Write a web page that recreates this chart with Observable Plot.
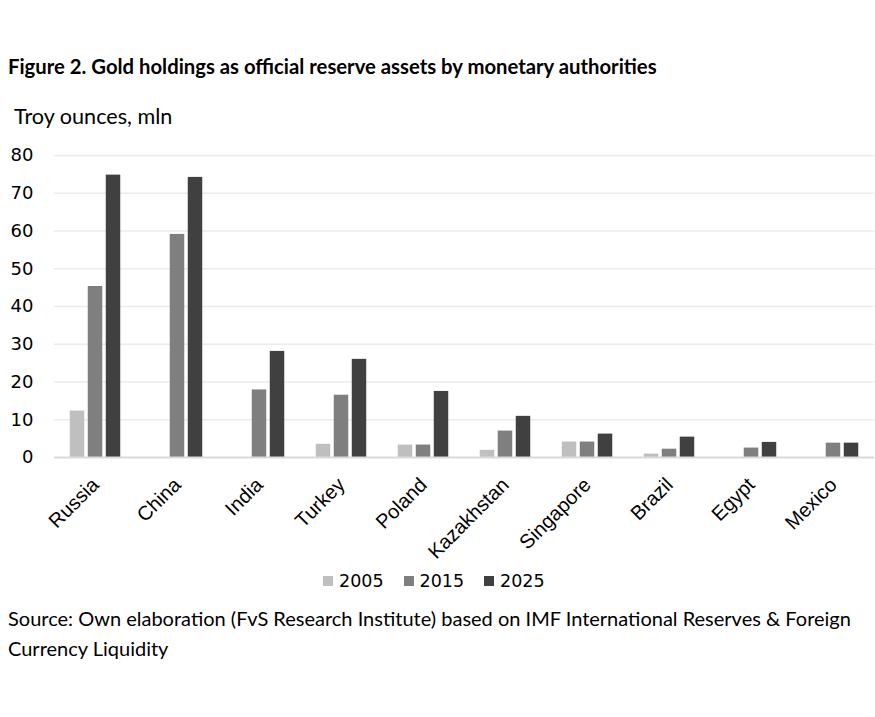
<!DOCTYPE html>
<html>
<head>
<meta charset="utf-8">
<script src="https://cdn.jsdelivr.net/npm/d3@7"></script>
<script src="https://cdn.jsdelivr.net/npm/@observablehq/plot@0.6"></script>
<style>
  html, body { margin: 0; padding: 0; background: #fff; }
  body { width: 875px; height: 717px; position: relative; overflow: hidden; }
  .title { position: absolute; left: 8px; top: 54px; font: bold 20.3px Lato, sans-serif; color: #000; white-space: nowrap; }
  .ylabel { position: absolute; left: 14px; top: 103px; font: 21.6px Lato, sans-serif; color: #000; white-space: nowrap; }
  #chart { position: absolute; left: 0; top: 140px; }
  #chart g[aria-label="x-axis tick label"] { font-family: "Liberation Sans", Arial, sans-serif; font-size: 20px; }
  .legend { position: absolute; left: 323px; top: 571px; display: flex; gap: 20px;
            font: 17.5px "DejaVu Sans", sans-serif; color: #000; }
  .legend span { display: inline-flex; align-items: center; gap: 6px; }
  .legend i { display: inline-block; width: 10px; height: 10px; }
  .source { position: absolute; left: 8px; top: 603px; font: 20px Lato, sans-serif; line-height: 30px; color: #000; white-space: nowrap; }
</style>
</head>
<body>
<div class="title">Figure 2. Gold holdings as official reserve assets by monetary authorities</div>
<div class="ylabel">Troy ounces, mln</div>
<div id="chart"></div>
<div class="legend" id="legend"></div>
<div class="source">Source: Own elaboration (FvS Research Institute) based on IMF International Reserves &amp; Foreign<br>Currency Liquidity</div>
<script>
// Gold reserves, million troy ounces
const countries = ["Russia", "China", "India", "Turkey", "Poland", "Kazakhstan", "Singapore", "Brazil", "Egypt", "Mexico"];
const years = ["2005", "2015", "2025"];
const gold2005 = [12.3, null, null, 3.5, 3.3, 1.9, 4.1, 0.9, null, null];
const gold2015 = [45.3, 59.1, 17.9, 16.5, 3.3, 7.0, 4.1, 2.2, 2.5, 3.8];
const gold2025 = [74.8, 74.2, 28.1, 26.0, 17.5, 10.9, 6.2, 5.4, 4.0, 3.8];
const yTicks = [0, 10, 20, 30, 40, 50, 60, 70, 80];
const colors = ["#bfbfbf", "#7f7f7f", "#404040"];

const series = [gold2005, gold2015, gold2025];
const rows = series.map((vals, s) =>
  countries.map((c, i) => ({country: c, year: years[s], value: vals[i]})).filter(d => d.value != null)
);

// three narrow bars per country, side by side around the band centre
const offsets = [-18, 0, 18];

const chart = Plot.plot({
  width: 875,
  height: 430,
  marginTop: 15,
  marginLeft: 54,
  marginRight: 1,
  marginBottom: 113,
  style: {fontFamily: "'DejaVu Sans', sans-serif", fontSize: "18px", color: "#000", background: "transparent"},
  x: {domain: countries, padding: 0, label: null, tickSize: 0, tickPadding: 24, tickRotate: -45},
  y: {domain: [0, 80], ticks: yTicks, label: null, tickSize: 0, tickPadding: 21},
  color: {domain: years, range: colors},
  marks: [
    Plot.ruleY(yTicks.filter(d => d > 0), {stroke: "#ebebeb", strokeWidth: 1.5}),
    ...rows.map((data, s) => Plot.barY(data, {
      x: "country", y: "value", fill: "year",
      insetLeft: 33.75, insetRight: 33.75, dx: offsets[s]
    })),
    Plot.ruleY([0], {stroke: "#d9d9d9", strokeWidth: 2})
  ]
});
document.getElementById("chart").appendChild(chart);

const legend = document.getElementById("legend");
years.forEach((y, i) => {
  const s = document.createElement("span");
  s.innerHTML = `<i style="background:${colors[i]}"></i>${y}`;
  legend.appendChild(s);
});
</script>
</body>
</html>
